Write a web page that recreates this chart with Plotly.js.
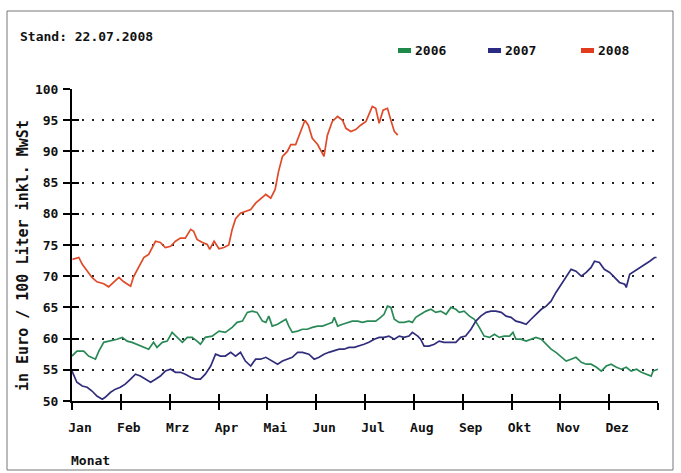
<!DOCTYPE html>
<html><head><meta charset="utf-8">
<script src="https://cdn.plot.ly/plotly-3.0.1.min.js"></script>
<style>html,body{margin:0;padding:0;background:#fff;}</style>
</head><body><div id="chart" style="width:681px;height:473px;"></div>
<script>
// x in months since 1 Jan (0..12), y in Euro / 100 Liter
const monthLabels = ['Jan','Feb','Mrz','Apr','Mai','Jun','Jul','Aug','Sep','Okt','Nov','Dez'];
const seriesNames = ['2006','2007','2008'];

const x2006 = [0.00,0.10,0.24,0.34,0.48,0.55,0.65,0.79,0.92,1.03,1.13,1.23,1.33,1.47,1.57,1.67,1.74,1.85,1.95,2.05,2.15,2.26,2.36,2.46,2.56,2.63,2.73,2.87,3.01,3.14,3.28,3.38,3.49,3.59,3.69,3.79,3.90,3.97,4.03,4.10,4.21,4.31,4.38,4.44,4.51,4.62,4.72,4.82,4.92,5.03,5.13,5.23,5.33,5.37,5.44,5.54,5.64,5.74,5.85,5.95,6.05,6.22,6.32,6.39,6.46,6.53,6.60,6.70,6.80,6.90,6.97,7.04,7.14,7.25,7.35,7.45,7.55,7.66,7.76,7.86,7.93,8.03,8.14,8.24,8.34,8.44,8.55,8.65,8.75,8.85,8.96,9.03,9.09,9.19,9.30,9.40,9.50,9.61,9.71,9.81,9.91,10.02,10.12,10.22,10.32,10.43,10.53,10.63,10.74,10.84,10.94,11.04,11.15,11.25,11.35,11.45,11.56,11.66,11.76,11.86,11.90,12.00];
const y2006 = [57.2,58.0,58.0,57.2,56.7,58.0,59.4,59.6,59.9,60.2,59.6,59.4,59.1,58.6,58.3,59.4,58.6,59.4,59.6,61.0,60.2,59.4,60.2,60.2,59.6,59.1,60.2,60.4,61.2,61.0,61.8,62.6,62.8,64.2,64.4,64.2,62.8,62.6,63.6,62.0,62.3,62.8,63.1,62.0,61.0,61.2,61.5,61.5,61.8,62.0,62.0,62.3,62.6,63.4,62.0,62.3,62.6,62.8,62.8,62.6,62.8,62.8,63.4,63.9,65.2,65.0,63.1,62.6,62.6,62.8,62.6,63.4,63.9,64.4,64.7,64.2,64.4,63.9,65.0,64.7,64.2,64.4,63.6,63.1,61.8,60.4,60.2,60.7,60.2,60.4,60.4,61.0,59.9,59.9,59.6,59.9,60.2,59.9,59.1,58.3,57.8,57.0,56.4,56.7,57.0,56.2,55.9,55.9,55.4,54.8,55.6,55.9,55.4,55.1,55.4,54.8,55.1,54.6,54.3,54.0,54.8,55.1];

const x2007 = [0.00,0.10,0.21,0.31,0.41,0.51,0.62,0.68,0.79,0.89,0.99,1.09,1.20,1.30,1.40,1.50,1.61,1.71,1.81,1.91,2.02,2.12,2.22,2.32,2.43,2.53,2.63,2.73,2.84,2.94,3.04,3.14,3.25,3.35,3.45,3.55,3.66,3.76,3.86,3.97,4.10,4.21,4.31,4.41,4.51,4.62,4.72,4.85,4.96,5.06,5.16,5.26,5.37,5.47,5.57,5.67,5.78,5.88,5.98,6.08,6.19,6.29,6.39,6.49,6.60,6.70,6.80,6.90,6.97,7.08,7.14,7.21,7.31,7.42,7.52,7.62,7.72,7.86,7.96,8.06,8.17,8.27,8.37,8.48,8.58,8.68,8.79,8.89,8.99,9.09,9.19,9.30,9.40,9.50,9.61,9.71,9.81,9.91,10.02,10.12,10.22,10.32,10.43,10.53,10.63,10.70,10.80,10.90,11.01,11.11,11.21,11.32,11.35,11.42,11.52,11.62,11.73,11.83,11.93,11.97];
const y2007 = [54.8,53.0,52.4,52.2,51.6,50.8,50.3,50.6,51.4,51.9,52.2,52.7,53.5,54.3,54.0,53.5,53.0,53.5,54.0,54.8,55.1,54.6,54.6,54.3,53.8,53.5,53.5,54.3,55.6,57.5,57.2,57.2,57.8,57.2,57.8,56.4,55.6,56.7,56.7,57.0,56.4,55.9,56.4,56.7,57.0,57.8,57.8,57.5,56.7,57.0,57.5,57.8,58.0,58.3,58.3,58.6,58.6,58.8,59.1,59.4,59.9,60.2,60.2,60.4,59.9,60.4,60.2,60.4,61.0,60.4,59.9,58.8,58.8,59.1,59.6,59.4,59.4,59.4,60.2,60.4,61.5,62.8,63.6,64.2,64.4,64.4,64.2,63.6,63.4,62.8,62.6,62.3,63.1,63.9,64.7,65.2,66.0,67.4,68.7,70.0,71.1,70.8,70.0,70.6,71.4,72.4,72.2,71.1,70.6,69.8,69.0,68.7,68.2,70.3,70.8,71.4,71.9,72.4,73.0,73.0];

const x2008 = [0.01,0.14,0.21,0.31,0.41,0.51,0.65,0.75,0.85,0.96,1.06,1.20,1.26,1.37,1.47,1.57,1.65,1.71,1.81,1.91,2.02,2.12,2.22,2.32,2.43,2.49,2.56,2.67,2.77,2.82,2.91,3.01,3.11,3.21,3.28,3.35,3.45,3.56,3.66,3.76,3.86,3.97,4.07,4.16,4.23,4.31,4.41,4.48,4.58,4.68,4.77,4.84,4.92,5.03,5.16,5.23,5.33,5.44,5.54,5.61,5.71,5.81,5.91,6.02,6.08,6.15,6.22,6.29,6.37,6.46,6.53,6.60,6.67];
const y2008 = [72.7,73.0,71.9,70.8,69.8,69.1,68.8,68.3,69.0,69.8,69.1,68.4,69.9,71.4,73.0,73.5,74.6,75.6,75.4,74.6,74.8,75.6,76.1,76.1,77.5,77.2,75.9,75.4,75.1,74.3,75.6,74.4,74.6,75.0,77.5,79.2,80.1,80.4,80.7,81.7,82.3,83.1,82.5,83.9,86.8,89.2,90.0,91.1,91.1,93.2,95.0,94.2,92.1,91.1,89.2,92.6,94.8,95.6,95.0,93.7,93.2,93.5,94.2,94.8,95.8,97.2,96.9,94.5,96.6,96.9,95.0,93.2,92.6];

const yTicks = [50,55,60,65,70,75,80,85,90,95,100];
const xTicks = [0,1,2,3,4,5,6,7,8,9,10,11,12];

const lineColors = ['#2a8a57','#302d7c','#e04a28'];
const swatchColors = ['#1d8a4a','#2c2b84','#e33b1d'];

const W = 681, H = 473;
const M = {l:72, r:23, t:89, b:72};
const PW = W - M.l - M.r, PH = H - M.t - M.b;
const px = v => (v - M.l) / PW;
const py = v => (H - M.b - v) / PH;

const FONT = '"DejaVu Sans Mono", "Liberation Mono", monospace';
const mkTrace = (x, y, i) => ({x, y, type:'scatter', mode:'lines', name:seriesNames[i],
  line:{color:lineColors[i], width:1.7}, showlegend:false, hoverinfo:'skip'});

// invisible helper trace so the overlaid tick-only axes are drawn
const helper = {x:[xTicks[0]], y:[yTicks[0]], xaxis:'x2', yaxis:'y2', type:'scatter', mode:'markers',
  marker:{opacity:0, size:1}, showlegend:false, hoverinfo:'skip'};

const traces = [helper, mkTrace(x2006,y2006,0), mkTrace(x2007,y2007,1), mkTrace(x2008,y2008,2)];

const tickText = monthLabels.concat(['']);

const annotations = [
  {text:'Stand: 22.07.2008', xref:'paper', yref:'paper', x:px(18), y:py(37), xanchor:'left', yanchor:'middle', showarrow:false, font:{family:FONT, size:13, color:'#111', weight:'bold'}},
  {text:'Monat', xref:'paper', yref:'paper', x:px(69), y:py(460), xanchor:'left', yanchor:'middle', showarrow:false, font:{family:FONT, size:13, color:'#111', weight:'bold'}},
  {text:'in Euro / 100 Liter inkl. MwSt', xref:'paper', yref:'paper', x:px(23), y:py(256), xanchor:'center', yanchor:'middle', textangle:-90, showarrow:false, font:{family:FONT, size:15, color:'#111', weight:'bold'}}
];
const legendX = [398, 488, 581];
const shapes = [
  {type:'rect', xref:'paper', yref:'paper', x0:px(7), x1:px(673), y0:py(470), y1:py(11), line:{color:'#777', width:1}, fillcolor:'rgba(0,0,0,0)', layer:'below'}
];
seriesNames.forEach((n, i) => {
  shapes.push({type:'rect', xref:'paper', yref:'paper', x0:px(legendX[i]), x1:px(legendX[i]+13), y0:py(53), y1:py(48), line:{width:0}, fillcolor:swatchColors[i]});
  annotations.push({text:n, xref:'paper', yref:'paper', x:px(legendX[i]+15), y:py(50.5), xanchor:'left', yanchor:'middle', showarrow:false, font:{family:FONT, size:13, color:'#111', weight:'bold'}});
});

const layout = {
  width:W, height:H, margin:M, paper_bgcolor:'#fff', plot_bgcolor:'#fff', showlegend:false,
  font:{family:FONT, size:13, color:'#111', weight:'bold'},
  xaxis:{range:[0,12], tickvals:xTicks, ticktext:tickText, ticks:'outside', ticklen:7, tickwidth:2, tickcolor:'#000',
    showline:true, linecolor:'#000', linewidth:2, showgrid:false, zeroline:false, ticklabelshift:8, ticklabelstandoff:6,
    tickfont:{family:FONT, size:13, color:'#111', weight:'bold'}, fixedrange:true},
  yaxis:{range:[50,100], tickvals:yTicks, ticks:'outside', ticklen:7, tickwidth:2, tickcolor:'#000',
    showline:true, linecolor:'#000', linewidth:2, showgrid:true, gridcolor:'#222', gridwidth:2, griddash:'2px,8px', zeroline:false,
    tickfont:{family:FONT, size:13, color:'#111', weight:'bold'}, ticklabelstandoff:2, fixedrange:true},
  xaxis2:{range:[0,12], overlaying:'x', anchor:'y2', side:'bottom', tickvals:xTicks, ticks:'inside', ticklen:7, tickwidth:2, tickcolor:'#000',
    showticklabels:false, showline:false, showgrid:false, zeroline:false, fixedrange:true},
  yaxis2:{range:[50,100], overlaying:'y', anchor:'x2', side:'left', tickvals:yTicks, ticks:'inside', ticklen:7, tickwidth:2, tickcolor:'#000',
    showticklabels:false, showline:false, showgrid:false, zeroline:false, fixedrange:true},
  annotations, shapes
};
Plotly.newPlot('chart', traces, layout, {displayModeBar:false, staticPlot:true});
</script></body></html>
